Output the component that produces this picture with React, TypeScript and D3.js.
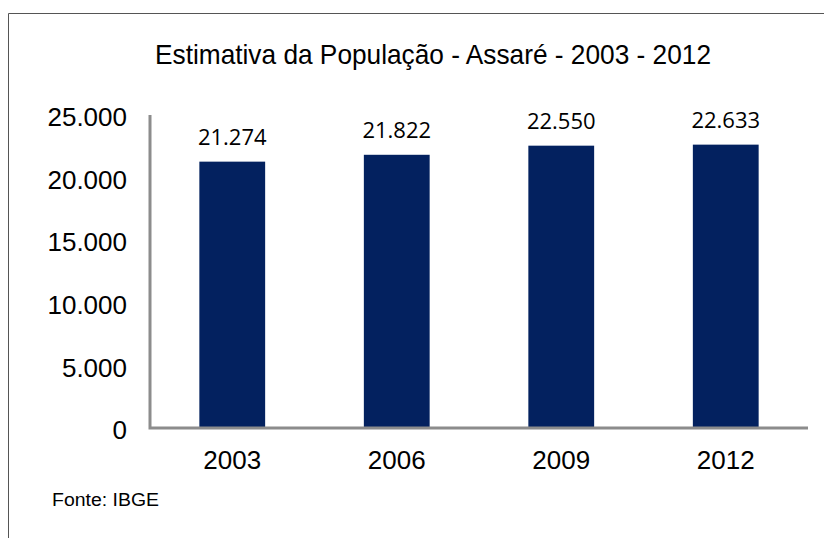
import React, { useEffect, useRef } from 'react';
import * as d3 from 'd3';

const years = ['2003', '2006', '2009', '2012'];
const population = [21274, 21822, 22550, 22633];
const yTicks = [0, 5000, 10000, 15000, 20000, 25000];

const fmt = (v: number) => d3.format(',')(v).replace(/,/g, '.');

export default function App() {
  const svgRef = useRef<SVGSVGElement>(null);

  useEffect(() => {
    if (!svgRef.current) return;
    const svg = d3.select(svgRef.current);
    svg.selectAll('*').remove();

    // frame around the chart area
    svg.append('path')
      .attr('d', 'M8.5,538 L8.5,13.5 L824,13.5')
      .attr('fill', 'none')
      .attr('stroke', '#555')
      .attr('stroke-width', 1);

    const left = 150, right = 808, top = 115, bottom = 428;

    const x = d3.scaleBand<string>().domain(years).range([left, right]).paddingInner(0.6).paddingOuter(0.3);
    const y = d3.scaleLinear().domain([0, 25000]).range([bottom, top]);

    svg.append('text')
      .attr('x', 433)
      .attr('y', 64)
      .attr('text-anchor', 'middle')
      .attr('font-family', 'Liberation Sans, Arial, sans-serif')
      .attr('font-size', 28)
      .attr('textLength', 556)
      .attr('lengthAdjust', 'spacingAndGlyphs')
      .attr('fill', '#000')
      .text('Estimativa da População - Assaré - 2003 - 2012');

    // bars
    svg.selectAll('.bar')
      .data(population)
      .enter()
      .append('rect')
      .attr('class', 'bar')
      .attr('x', (_, i) => x(years[i]) as number)
      .attr('width', x.bandwidth())
      .attr('y', d => y(d))
      .attr('height', d => bottom - y(d))
      .attr('fill', '#03215f');

    // value labels
    svg.selectAll('.lbl')
      .data(population)
      .enter()
      .append('text')
      .attr('x', (_, i) => (x(years[i]) as number) + x.bandwidth() / 2)
      .attr('y', d => y(d) - 17)
      .attr('text-anchor', 'middle')
      .attr('font-family', 'Open Sans, sans-serif')
      .attr('font-size', 22)
      .attr('fill', '#000')
      .text(d => fmt(d));

    // y tick labels
    svg.selectAll('.ytick')
      .data(yTicks)
      .enter()
      .append('text')
      .attr('x', 127)
      .attr('y', d => y(d) + 2)
      .attr('dy', '0.35em')
      .attr('text-anchor', 'end')
      .attr('font-family', 'Liberation Sans, Arial, sans-serif')
      .attr('font-size', 26)
      .attr('fill', '#000')
      .text(d => fmt(d));

    // x tick labels
    svg.selectAll('.xtick')
      .data(years)
      .enter()
      .append('text')
      .attr('x', d => (x(d) as number) + x.bandwidth() / 2)
      .attr('y', 469)
      .attr('text-anchor', 'middle')
      .attr('font-family', 'Liberation Sans, Arial, sans-serif')
      .attr('font-size', 26)
      .attr('fill', '#000')
      .text(d => d);

    // axes lines
    svg.append('path')
      .attr('d', `M${left},${top} L${left},${bottom} L${right},${bottom}`)
      .attr('fill', 'none')
      .attr('stroke', '#8c8c8c')
      .attr('stroke-width', 3);

    svg.append('text')
      .attr('x', 52)
      .attr('y', 506)
      .attr('font-family', 'Liberation Sans, Arial, sans-serif')
      .attr('font-size', 18)
      .attr('textLength', 107)
      .attr('lengthAdjust', 'spacingAndGlyphs')
      .attr('fill', '#000')
      .text('Fonte: IBGE');
  }, []);

  return (
    <svg ref={svgRef} width={824} height={538}
      style={{ position: 'absolute', left: 0, top: 0, background: '#fff' }} />
  );
}
